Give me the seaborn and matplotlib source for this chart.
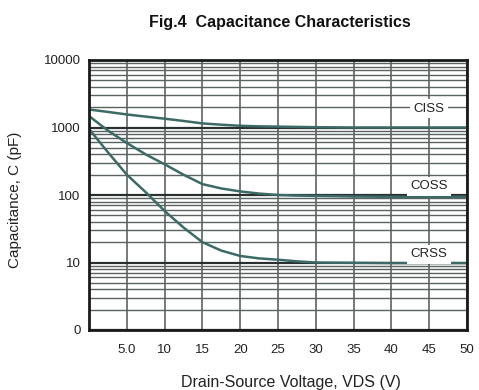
import matplotlib
matplotlib.use("Agg")
import matplotlib.pyplot as plt
import seaborn as sns
import pandas as pd
import numpy as np
from matplotlib.ticker import FixedLocator, NullFormatter

sns.set_style("white")
plt.rcParams['font.family'] = ['Liberation Sans', 'DejaVu Sans']

vds = [0, 2.5, 5, 7.5, 10, 12.5, 15, 17.5, 20, 22.5, 25, 27.5, 30, 35, 40, 45, 50]
ciss = [1850, 1700, 1560, 1450, 1350, 1250, 1150, 1100, 1060, 1040, 1030, 1020, 1010, 1000, 1000, 1000, 1000]
coss = [1480, 900, 590, 400, 285, 200, 145, 125, 113, 105, 100, 98, 97, 95, 94, 94, 94]
crss = [950, 430, 200, 110, 58, 33, 20, 15, 12.5, 11.5, 11, 10.4, 10, 9.9, 9.8, 9.8, 9.8]

series_names = ["CISS", "COSS", "CRSS"]
x_ticks = [5, 10, 15, 20, 25, 30, 35, 40, 45, 50]
x_labels = ["5.0", "10", "15", "20", "25", "30", "35", "40", "45", "50"]
y_ticks = [1, 10, 100, 1000, 10000]
y_labels = ["0", "10", "100", "1000", "10000"]

df = pd.DataFrame({
    "VDS": vds * 3,
    "C": ciss + coss + crss,
    "series": [n for n in series_names for _ in vds],
})

fig = plt.figure(figsize=(4.79, 3.90), dpi=100)
ax = fig.add_axes([89/479, 60/390, (467-89)/479, (330-60)/390])
ax.set_yscale("log")
ax.set_xlim(0, 50)
ax.set_ylim(1, 10000)

grid_col = "#5b6362"
minor = [m * 10**d for d in range(0, 4) for m in range(2, 10)]
ax.yaxis.set_minor_locator(FixedLocator(minor))
ax.yaxis.set_minor_formatter(NullFormatter())
ax.set_yticks(y_ticks)
ax.set_yticklabels(y_labels)
ax.set_xticks(x_ticks)
ax.set_xticklabels(x_labels)
ax.grid(True, which="minor", axis="y", color=grid_col, lw=1.0, zorder=1)
ax.grid(True, which="major", axis="y", color="#2a2f2f", lw=1.6, zorder=1)
ax.grid(True, which="major", axis="x", color=grid_col, lw=1.2, zorder=1)
ax.set_axisbelow(True)

sns.lineplot(data=df, x="VDS", y="C", units="series", estimator=None,
             color="#3c6a67", lw=1.8, ax=ax, zorder=3, legend=False)
ax.set_xlabel("")
ax.set_ylabel("")

for sp in ax.spines.values():
    sp.set_color("#1a1a1a")
    sp.set_linewidth(2.0)
    sp.set_zorder(5)

ax.tick_params(axis="both", which="both", length=0, labelsize=9.5, colors="#222222")
ax.tick_params(axis="x", pad=10)
ax.tick_params(axis="y", pad=6)

label_pos = [(45, 1900), (45, 135), (45, 13.2)]
for name, (lx, ly) in zip(series_names, label_pos):
    ax.text(lx, ly, name, ha="center", va="center", fontsize=9.5, color="#222222",
            bbox=dict(facecolor="white", edgecolor="none", pad=2.5), zorder=4)

fig.text(291/479, 1 - 383/390, "Drain-Source Voltage, VDS (V)", ha="center", va="center",
         fontsize=11.5, color="#222222")
fig.text(15/479, 1 - 200/390, "Capacitance, C (pF)", ha="center", va="center",
         rotation=90, fontsize=11, color="#222222")
fig.text(280/479, 1 - 22/390, "Fig.4  Capacitance Characteristics", ha="center", va="center",
         fontsize=11.5, fontweight="bold", color="#111111")

fig.savefig("out.png", dpi=100)
